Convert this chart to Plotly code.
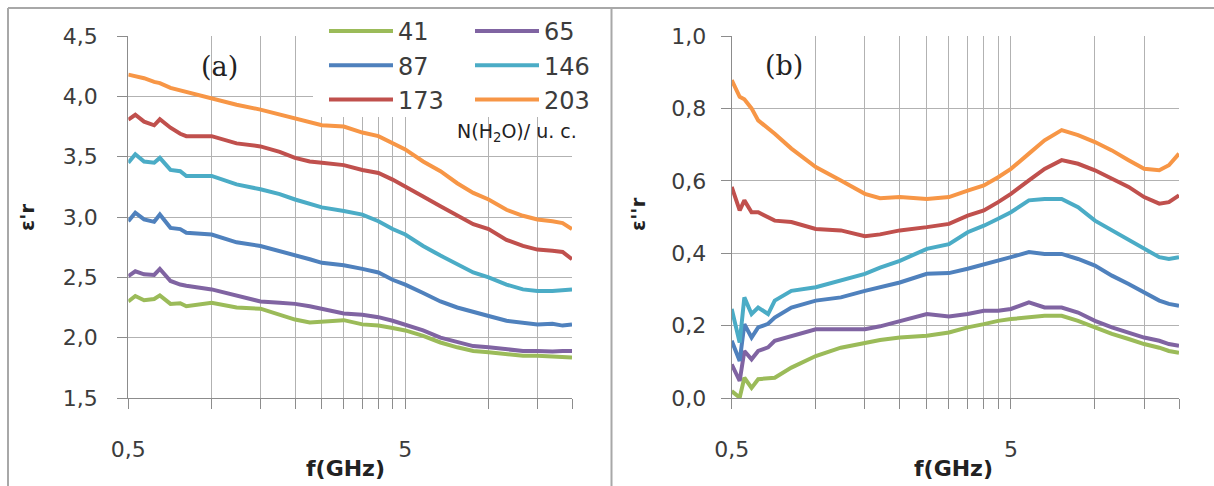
import math
import plotly.graph_objects as go

# ---------------- data ----------------
series_names = ["41", "65", "87", "146", "173", "203"]
series_colors = ["#9BBB59", "#8064A2", "#4F81BD", "#4BACC6", "#C0504D", "#F79646"]
legend_column = ["legend", "legend2", "legend", "legend2", "legend", "legend2"]

# panel (a): real part eps'r
freq_a = [0.5, 0.53, 0.57, 0.62, 0.65, 0.71, 0.77, 0.81, 1.0, 1.23, 1.5, 1.76, 2.0, 2.26, 2.5,
          3.0, 3.5, 4.0, 4.5, 5.0, 5.8, 6.7, 7.7, 8.8, 10, 11.6, 13.3, 15, 17, 18.5, 20]
eps1_41 = [2.30, 2.345, 2.31, 2.32, 2.35, 2.28, 2.285, 2.26, 2.29, 2.25, 2.24, 2.19, 2.15, 2.125, 2.13,
           2.145, 2.11, 2.10, 2.08, 2.06, 2.015, 1.96, 1.92, 1.89, 1.88, 1.865, 1.85, 1.85, 1.845, 1.845, 1.835]
eps1_65 = [2.51, 2.55, 2.525, 2.52, 2.57, 2.47, 2.44, 2.43, 2.40, 2.345, 2.30, 2.29, 2.28, 2.26, 2.24,
           2.20, 2.19, 2.17, 2.14, 2.11, 2.06, 2.00, 1.96, 1.93, 1.92, 1.905, 1.89, 1.89, 1.885, 1.89, 1.89]
eps1_87 = [2.965, 3.035, 2.98, 2.96, 3.02, 2.91, 2.90, 2.87, 2.855, 2.79, 2.76, 2.72, 2.68, 2.65, 2.62,
           2.60, 2.57, 2.54, 2.48, 2.44, 2.37, 2.30, 2.25, 2.21, 2.18, 2.14, 2.12, 2.11, 2.115, 2.10, 2.11]
eps1_146 = [3.45, 3.52, 3.46, 3.45, 3.49, 3.39, 3.38, 3.34, 3.34, 3.27, 3.23, 3.19, 3.145, 3.11, 3.08,
            3.05, 3.02, 2.965, 2.90, 2.855, 2.76, 2.68, 2.61, 2.54, 2.50, 2.44, 2.40, 2.387, 2.387, 2.39, 2.40]
eps1_173 = [3.806, 3.847, 3.79, 3.76, 3.81, 3.74, 3.69, 3.67, 3.67, 3.61, 3.585, 3.54, 3.49, 3.46, 3.45,
            3.43, 3.39, 3.365, 3.31, 3.255, 3.17, 3.09, 3.01, 2.94, 2.90, 2.81, 2.76, 2.73, 2.72, 2.71, 2.65]
eps1_203 = [4.18, 4.17, 4.15, 4.12, 4.11, 4.07, 4.05, 4.03, 3.985, 3.93, 3.89, 3.85, 3.81, 3.78, 3.76,
            3.75, 3.70, 3.67, 3.61, 3.56, 3.46, 3.38, 3.28, 3.20, 3.145, 3.06, 3.01, 2.98, 2.965, 2.95, 2.90]

# panel (b): imaginary part eps''r
freq_b = [0.5, 0.534, 0.555, 0.589, 0.622, 0.675, 0.713, 0.818, 1.0, 1.23, 1.5, 1.7, 2.0, 2.5, 3.0,
          3.5, 4.0, 4.5, 5.0, 5.8, 6.6, 7.6, 8.7, 10, 11.5, 13.2, 15, 17, 18.4, 20]
eps2_41 = [0.019, 0.001, 0.056, 0.028, 0.052, 0.054, 0.056, 0.084, 0.116, 0.139, 0.153, 0.160, 0.167, 0.172, 0.181,
           0.195, 0.204, 0.213, 0.218, 0.222, 0.227, 0.227, 0.213, 0.195, 0.177, 0.163, 0.149, 0.139, 0.130, 0.125]
eps2_65 = [0.093, 0.047, 0.130, 0.107, 0.130, 0.140, 0.158, 0.172, 0.190, 0.190, 0.190, 0.198, 0.213, 0.232, 0.225,
           0.232, 0.241, 0.241, 0.246, 0.264, 0.250, 0.250, 0.236, 0.213, 0.195, 0.181, 0.167, 0.158, 0.149, 0.144]
eps2_87 = [0.158, 0.102, 0.204, 0.167, 0.195, 0.205, 0.222, 0.250, 0.269, 0.278, 0.296, 0.305, 0.319, 0.343, 0.345,
           0.357, 0.370, 0.379, 0.389, 0.403, 0.398, 0.398, 0.384, 0.366, 0.338, 0.315, 0.292, 0.269, 0.260, 0.255]
eps2_146 = [0.246, 0.153, 0.278, 0.232, 0.250, 0.232, 0.269, 0.296, 0.306, 0.324, 0.343, 0.360, 0.379, 0.412, 0.425,
            0.458, 0.476, 0.495, 0.513, 0.546, 0.550, 0.550, 0.527, 0.490, 0.463, 0.435, 0.412, 0.389, 0.384, 0.389]
eps2_173 = [0.583, 0.518, 0.546, 0.513, 0.513, 0.500, 0.490, 0.486, 0.467, 0.463, 0.447, 0.452, 0.463, 0.472, 0.481,
            0.504, 0.518, 0.541, 0.564, 0.601, 0.633, 0.657, 0.647, 0.629, 0.606, 0.583, 0.555, 0.537, 0.541, 0.560]
eps2_203 = [0.878, 0.832, 0.825, 0.800, 0.767, 0.745, 0.730, 0.689, 0.638, 0.601, 0.564, 0.552, 0.555, 0.550, 0.555,
            0.573, 0.587, 0.610, 0.633, 0.675, 0.712, 0.740, 0.726, 0.707, 0.684, 0.657, 0.633, 0.629, 0.643, 0.675]

x_major_vals = [0.5, 5]
x_major_text = ["0,5", "5"]
x_minor_vals = [1, 1.5, 2, 2.5, 3, 3.5, 4, 4.5, 10, 15, 20]
ya_tickvals = [1.5, 2.0, 2.5, 3.0, 3.5, 4.0, 4.5]
yb_tickvals = [0.0, 0.2, 0.4, 0.6, 0.8, 1.0]

eps1_all = [eps1_41, eps1_65, eps1_87, eps1_146, eps1_173, eps1_203]
eps2_all = [eps2_41, eps2_65, eps2_87, eps2_146, eps2_173, eps2_203]

# ---------------- figure ----------------
W, H = 1214, 486
FONT = "DejaVu Sans"
TXT = "#3c3c3c"
GRID = "#b2b2b2"
AXC = "#8c8c8c"

def px(x):
    return x / W

def py(y):
    return 1 - y / H

fig = go.Figure()
for name, col, ya, lg in zip(series_names, series_colors, eps1_all, legend_column):
    fig.add_trace(go.Scatter(x=freq_a, y=ya, mode="lines", name=name, legend=lg,
                             line=dict(color=col, width=4), xaxis="x", yaxis="y"))
for name, col, yb in zip(series_names, series_colors, eps2_all):
    fig.add_trace(go.Scatter(x=freq_b, y=yb, mode="lines", name=name, showlegend=False,
                             line=dict(color=col, width=4), xaxis="x2", yaxis="y2"))

xcommon = dict(type="log", range=[math.log10(0.5), math.log10(20.0001)], automargin=False,
               tickmode="array", tickvals=x_major_vals, ticktext=x_major_text,
               showgrid=True, gridcolor=GRID, gridwidth=1.3,
               ticks="outside", ticklen=10, tickcolor=AXC, tickwidth=1.3,
               minor=dict(tickmode="array", tickvals=x_minor_vals, showgrid=True,
                          gridcolor=GRID, gridwidth=1.3, ticks="outside", ticklen=10,
                          tickcolor=AXC, tickwidth=1.3),
               showline=True, linecolor=AXC, linewidth=1.3, zeroline=False,
               tickfont=dict(family=FONT, size=22, color=TXT), ticklabelstandoff=21)
ycommon = dict(showgrid=True, gridcolor=GRID, gridwidth=1.3, automargin=False,
               ticks="outside", ticklen=10, tickcolor=AXC, tickwidth=1.3,
               showline=True, linecolor=AXC, linewidth=1.3, zeroline=False,
               tickfont=dict(family=FONT, size=22, color=TXT), tickformat=".1f",
               tickmode="array")

ydom = [py(398), py(36)]
legend_common = dict(orientation="v", xanchor="left", yanchor="top", bgcolor="rgba(0,0,0,0)",
                     borderwidth=0, itemwidth=64, font=dict(family=FONT, size=24, color=TXT))
fig.update_layout(
    template="none",
    width=W, height=H, margin=dict(l=0, r=0, t=0, b=0, autoexpand=False),
    paper_bgcolor="white", plot_bgcolor="white",
    separators=", ",
    xaxis=dict(domain=[px(128.3), px(572)], anchor="y", **xcommon),
    yaxis=dict(domain=ydom, anchor="x", range=[1.5, 4.5], tickvals=ya_tickvals,
               ticklabelstandoff=15, **ycommon),
    xaxis2=dict(domain=[px(731.7), px(1179)], anchor="y2", **xcommon),
    yaxis2=dict(domain=ydom, anchor="x2", range=[0.0, 1.0], tickvals=yb_tickvals,
                ticklabelstandoff=10, **ycommon),
    legend=dict(x=px(324), y=py(9), **legend_common),
    legend2=dict(x=px(470), y=py(9), **legend_common),
    showlegend=True,
)

ann = [
    dict(text="(a)", x=px(219), y=py(67), font=dict(family="DejaVu Serif", size=27, color="#222222")),
    dict(text="(b)", x=px(784), y=py(65), font=dict(family="DejaVu Serif", size=27, color="#222222")),
    dict(text="N(H<sub>2</sub>O)/ u. c.", x=px(517), y=py(132),
         font=dict(family=FONT, size=19, color="#222222")),
    dict(text="<b>f(GHz)</b>", x=px(345), y=py(468), font=dict(family=FONT, size=22, color="#222222")),
    dict(text="<b>f(GHz)</b>", x=px(953), y=py(468), font=dict(family=FONT, size=22, color="#222222")),
    dict(text="<b>ε'r</b>", x=px(27), y=py(218), textangle=-90,
         font=dict(family=FONT, size=20, color="#222222")),
    dict(text="<b>ε''r</b>", x=px(638), y=py(215), textangle=-90,
         font=dict(family=FONT, size=20, color="#222222")),
]
for a in ann:
    a.update(xref="paper", yref="paper", showarrow=False, xanchor="center", yanchor="middle")
    fig.add_annotation(**a)

# legend box (white background hiding the grid), panel frames
fig.add_shape(type="rect", xref="paper", yref="paper", x0=px(313), x1=px(598), y0=py(117), y1=py(10),
              fillcolor="white", line=dict(width=0), layer="above")
FRAME = "#a8a8a8"
fig.add_shape(type="line", xref="paper", yref="paper", x0=px(8), x1=1, y0=py(8), y1=py(8),
              line=dict(color=FRAME, width=2))
fig.add_shape(type="line", xref="paper", yref="paper", x0=px(8), x1=px(8), y0=py(8), y1=0,
              line=dict(color=FRAME, width=2))
fig.add_shape(type="line", xref="paper", yref="paper", x0=px(611.5), x1=px(611.5), y0=py(8), y1=0,
              line=dict(color=FRAME, width=2))

fig.write_html("out.html", config={"displayModeBar": False},
               post_script="document.body.style.margin='0px';document.body.style.overflow='hidden';")
